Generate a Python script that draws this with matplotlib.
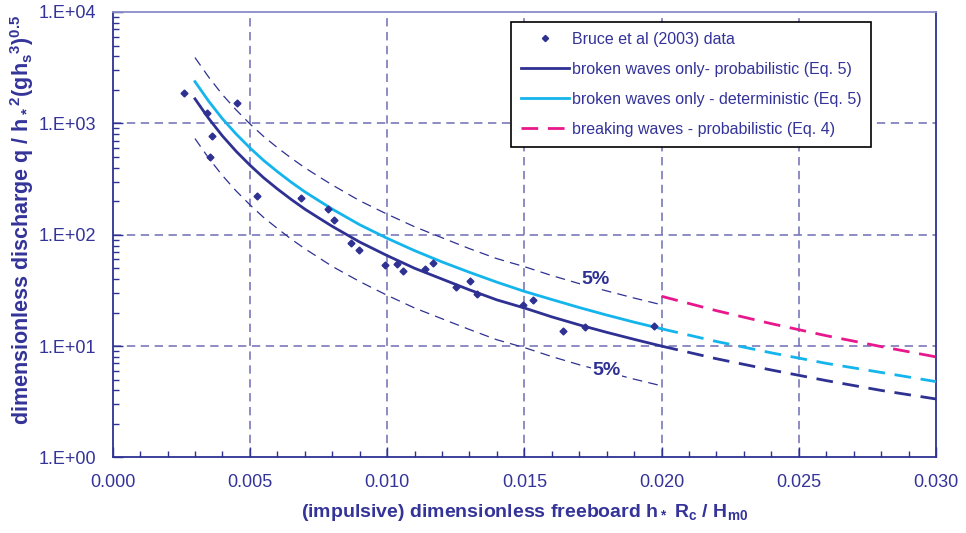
import numpy as np
import matplotlib
matplotlib.use('Agg')
import matplotlib.pyplot as plt
from matplotlib.ticker import FixedLocator, FuncFormatter, LogLocator, NullFormatter

plt.rcParams['font.family'] = ['Liberation Sans', 'DejaVu Sans']
plt.rcParams['mathtext.default'] = 'regular'
plt.rcParams['lines.scale_dashes'] = False

NAVY = '#2E3192'
TXT = '#333399'
LBLUE = '#14B4EC'
PINK = '#E8188C'
GRID = '#6E6EB4'

# Bruce et al (2003) data
x_data = [0.00261, 0.00453, 0.00343, 0.00363, 0.00355, 0.00527, 0.00686, 0.00785,
          0.00805, 0.00868, 0.00899, 0.00993, 0.01036, 0.01058, 0.01139, 0.01168,
          0.01252, 0.01303, 0.01326, 0.01495, 0.01533, 0.01641, 0.01721, 0.01973]
q_data = [1860, 1531, 1245, 769, 501, 224, 212, 169,
          135.6, 84.2, 72.9, 53.5, 54.6, 47.5, 48.9, 55.5,
          34.1, 38.6, 29.2, 23.2, 25.9, 13.7, 14.7, 15.1]

# Eq. 5 curves within the range of the data
x_fit = [0.003, 0.0035, 0.004, 0.0045, 0.005, 0.0055, 0.006, 0.0065, 0.007, 0.0075,
         0.008, 0.009, 0.010, 0.011, 0.012, 0.013, 0.014, 0.015, 0.016, 0.017,
         0.018, 0.019, 0.020]
q_prob = [1660, 1106, 771, 561, 422, 325, 258, 208, 170, 142,
          119, 86, 65, 50, 40, 32, 26, 22, 18.3, 15.5,
          13.3, 11.5, 10]
q_det = [2370, 1580, 1100, 802, 603, 465, 369, 297, 243, 203,
         170, 123, 93, 72, 57, 46, 37.5, 31, 26.2, 22.2,
         19, 16.4, 14.3]
q_up5 = [3900, 2600, 1810, 1320, 990, 764, 606, 489, 400, 334,
         280, 202, 153, 118, 94, 75, 61, 51.7, 43, 36.4,
         31.3, 27, 23.5]
q_low5 = [730, 487, 340, 247, 186, 143, 114, 91.5, 75, 62.5,
          52, 38, 28.6, 22, 17.6, 14.1, 11.4, 9.7, 8.05, 6.8,
          5.85, 5.05, 4.4]

# extrapolation beyond the data, plus Eq. 4
x_ext = [0.020, 0.022, 0.024, 0.026, 0.028, 0.030]
q_prob_ext = [10, 7.7, 6.1, 4.9, 4.0, 3.35]
q_det_ext = [14.3, 11.0, 8.7, 7.0, 5.8, 4.8]
q_brk_ext = [28, 20.8, 15.9, 12.4, 9.9, 8.0]

fig = plt.figure(figsize=(9.66, 5.33), dpi=100)
ax = fig.add_axes([0.1166, 0.1417, 0.8524, 0.8358])
ax.set_yscale('log')
ax.set_xlim(0, 0.030)
ax.set_ylim(1, 1e4)

# grid
for gx in [0.005, 0.010, 0.015, 0.020, 0.025]:
    ax.axvline(gx, color=GRID, lw=1.1, dashes=(6, 4), zorder=1)
for gy in [10, 100, 1000]:
    ax.axhline(gy, color=GRID, lw=1.1, dashes=(6, 4), zorder=1)

# 5% bounds
ax.plot(x_fit, q_up5, color=NAVY, lw=0.9, dashes=(7, 4.5), zorder=2)
ax.plot(x_fit, q_low5, color=NAVY, lw=0.9, dashes=(7, 4.5), zorder=2)

ax.plot(x_data, q_data, 'D', color=NAVY, ms=3.5, ls='none', zorder=5,
        label='Bruce et al (2003) data')
ax.plot(x_fit, q_prob, color=NAVY, lw=2, zorder=4,
        label='broken waves only- probabilistic (Eq. 5)')
ax.plot(x_fit, q_det, color=LBLUE, lw=2, zorder=4,
        label='broken waves only - deterministic (Eq. 5)')
ax.plot(x_ext, q_brk_ext, color=PINK, lw=2, dashes=(12, 7), zorder=4,
        label='breaking waves - probabilistic (Eq. 4)')
ax.plot(x_ext, q_prob_ext, color=NAVY, lw=2, dashes=(12, 7), zorder=4)
ax.plot(x_ext, q_det_ext, color=LBLUE, lw=2, dashes=(12, 7), zorder=4)

for tx, ty in [(0.0176, 40), (0.0180, 6.1)]:
    ax.text(tx, ty, '5%', color=NAVY, fontsize=14, fontweight='bold',
            ha='center', va='center', zorder=3,
            bbox=dict(facecolor='white', edgecolor='none', pad=1))

# axes styling
for side in ['left', 'bottom', 'right']:
    ax.spines[side].set_color(NAVY)
    ax.spines[side].set_linewidth(1.3)
ax.spines['top'].set_color('#8C8CC8')
ax.spines['top'].set_linewidth(1.3)

ax.xaxis.set_major_locator(FixedLocator([0, 0.005, 0.010, 0.015, 0.020, 0.025, 0.030]))
ax.xaxis.set_minor_locator(FixedLocator(np.arange(0, 0.0301, 0.001)))
ax.xaxis.set_major_formatter(FuncFormatter(lambda v, p: '%.3f' % v))
ax.yaxis.set_major_locator(LogLocator(base=10, numticks=10))
ax.yaxis.set_minor_locator(LogLocator(base=10, subs=np.arange(2, 10), numticks=10))
ax.yaxis.set_minor_formatter(NullFormatter())
ax.yaxis.set_major_formatter(FuncFormatter(lambda v, p: '1.E+%02d' % round(np.log10(v))))

ax.tick_params(which='both', direction='in', colors=NAVY, labelcolor=TXT,
               labelsize=13, top=False, right=False)
ax.tick_params(which='major', length=7, width=1)
ax.tick_params(which='minor', length=4, width=1)
ax.tick_params(axis='x', pad=12)
ax.tick_params(axis='y', pad=12)

ax.set_xlabel('(impulsive) dimensionless freeboard h$_*$ R$_c$ / H$_{m0}$',
              fontsize=14, fontweight='bold', color=TXT, labelpad=8)
ax.set_ylabel('dimensionless discharge q / h$_*$$^2$(gh$_s$$^3$)$^{0.5}$',
              fontsize=15.5, fontweight='bold', color=TXT)
ax.yaxis.set_label_coords(-0.093, 0.534)

leg = ax.legend(loc='upper left', bbox_to_anchor=(0.4838, 0.9776), borderaxespad=0,
                fancybox=False, framealpha=1, edgecolor='black', fontsize=11.5,
                handlelength=3.0, handletextpad=0.2, labelspacing=0.95,
                borderpad=0.6, markerscale=0.9)
leg.get_frame().set_linewidth(1.2)
for t in leg.get_texts():
    t.set_color(TXT)

fig.savefig('out.png', dpi=100)
